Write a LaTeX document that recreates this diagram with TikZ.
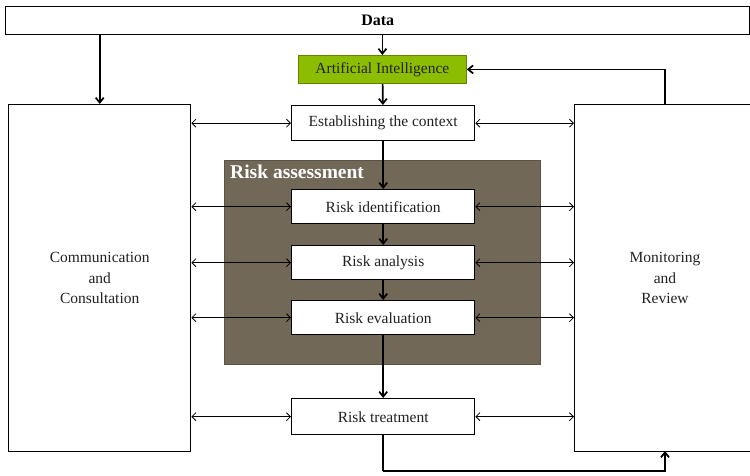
\documentclass[tikz,border=0pt]{standalone}
\usepackage{fontspec}
\setmainfont{Liberation Serif}
\usetikzlibrary{arrows.meta}
\definecolor{aigreen}{HTML}{8CBD00}
\definecolor{rabg}{HTML}{726858}
\definecolor{txt}{HTML}{222222}
\begin{document}
\begin{tikzpicture}[x=1pt,y=-1pt,
  box/.style={draw=black,line width=1.4pt,fill=white,inner sep=0pt,text=txt,font=\fontsize{15.5}{18}\selectfont},
  flow/.style={line width=1.7pt,-{Straight Barb[length=5pt,width=8pt,line width=1.7pt]}},
  dbl/.style={line width=0.8pt,{Straight Barb[length=4pt,width=8pt]}-{Straight Barb[length=4pt,width=8pt]}}]
\useasboundingbox (0,0) rectangle (750,476);
\fill[white] (0,0) rectangle (750,476);
% background
\node[fill=rabg,draw=rabg!80!black,line width=0.6pt,minimum width=316pt,minimum height=204pt,anchor=north west,inner sep=0pt] (ra) at (224,160) {};
\node[anchor=north west,text=white,font=\fontsize{19.5}{22}\selectfont\bfseries,inner sep=0pt] (ralab) at (230,164.5) {Risk assessment};
% boxes
\node[box,minimum width=744pt,minimum height=28pt,anchor=north west,font=\fontsize{16}{18}\selectfont\bfseries,text=black] (data) at (5,6) {Data};
\node[box,fill=aigreen,line width=0.8pt,draw=aigreen!70!black,minimum width=168pt,minimum height=28pt,anchor=north west] (ai) at (298,55) {Artificial Intelligence};
\node[box,minimum width=183pt,minimum height=35pt,anchor=north west] (ctx) at (291,105) {Establishing the context};
\node[box,minimum width=183pt,minimum height=34pt,anchor=north west] (rid) at (291,189) {Risk identification};
\node[box,minimum width=183pt,minimum height=34pt,anchor=north west] (ran) at (291,245) {Risk analysis};
\node[box,minimum width=183pt,minimum height=34pt,anchor=north west] (rev) at (291,300) {Risk evaluation};
\node[box,minimum width=183pt,minimum height=36pt,anchor=north west] (rtr) at (291,398) {Risk treatment};
\node[box,minimum width=182pt,minimum height=347pt,anchor=north west,align=center,font=\fontsize{15.5}{20.5}\selectfont] (com) at (8,104) {Communication\\and\\Consultation};
\node[box,minimum width=180pt,minimum height=347pt,anchor=north west] (mon) at (574,104) {};
\node[text=txt,font=\fontsize{15.5}{20.5}\selectfont,align=center] (monlab) at (665,278) {Monitoring\\and\\Review};
% vertical flow
\draw[flow] (data.south -| com.north) -- (com.north);
\draw[flow] (data.south -| ai.north) -- (ai.north);
\draw[flow] (ai) -- (ctx);
\draw[flow] (ctx) -- (rid);
\draw[flow] (rid) -- (ran);
\draw[flow] (ran) -- (rev);
\draw[flow] (rev) -- (rtr);
\coordinate (mt) at (665,104);
\coordinate (mb) at (665,451);
\draw[flow] (mt) |- (ai.east);
\draw[flow] (rtr.south) |- (383,471) -| (mb);
% double arrows
\foreach \n in {ctx,rid,ran,rev,rtr}{
  \draw[dbl] (com.east |- \n.west) -- (\n.west);
  \draw[dbl] (\n.east) -- (mon.west |- \n.east);
}
\end{tikzpicture}
\end{document}
